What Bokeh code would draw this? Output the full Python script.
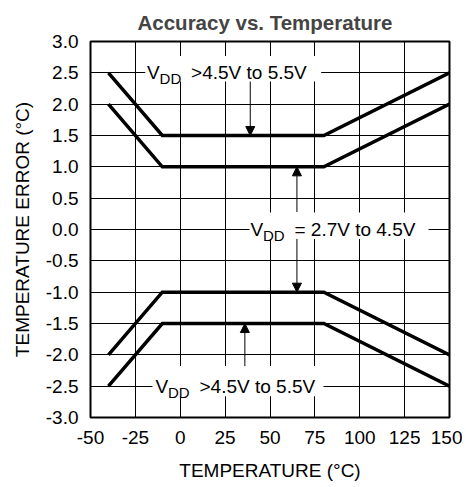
from bokeh.plotting import figure
from bokeh.models import FixedTicker, PrintfTickFormatter, Arrow, NormalHead
from bokeh.core.properties import value
from bokeh.embed import file_html
from bokeh.resources import INLINE

# ---- data ----
temps = [-40, -10, 80, 150]
err_5v_upper = [2.5, 1.5, 1.5, 2.5]
err_3v_upper = [2.0, 1.0, 1.0, 2.0]
err_3v_lower = [-2.0, -1.0, -1.0, -2.0]
err_5v_lower = [-2.5, -1.5, -1.5, -2.5]

x_ticks = [-50, -25, 0, 25, 50, 75, 100, 125, 150]
y_ticks = [-3.0, -2.5, -2.0, -1.5, -1.0, -0.5, 0.0, 0.5, 1.0, 1.5, 2.0, 2.5, 3.0]

label_hi = ">4.5V to 5.5V"
label_lo = "= 2.7V to 4.5V"

FONT = "Liberation Sans"

p = figure(width=462, height=483, x_range=(-50, 150), y_range=(-3, 3),
           output_backend="svg", toolbar_location=None,
           min_border_left=90, min_border_right=13, min_border_top=40, min_border_bottom=65,
           title="Accuracy vs. Temperature")

p.title.text_font = FONT
p.title.text_font_size = "20.5px"
p.title.text_font_style = "bold"
p.title.align = "left"
p.title.offset = 47
p.title.standoff = 16

p.outline_line_color = "black"
p.outline_line_width = 2
p.outline_line_alpha = 1

for ax in (p.xaxis, p.yaxis):
    ax.axis_line_color = None
    ax.major_tick_in = 0
    ax.major_tick_out = 0
    ax.minor_tick_in = 0
    ax.minor_tick_out = 0
    ax.major_label_text_font = FONT
    ax.major_label_text_font_size = "19px"
    ax.major_label_text_color = "black"
    ax.axis_label_text_font = FONT
    ax.axis_label_text_font_size = "19px"
    ax.axis_label_text_font_style = "normal"
    ax.axis_label_text_color = "black"

p.xaxis.ticker = FixedTicker(ticks=x_ticks)
p.yaxis.ticker = FixedTicker(ticks=y_ticks)
p.xaxis.formatter = PrintfTickFormatter(format="%d")
p.yaxis.formatter = PrintfTickFormatter(format="%.1f")
p.xaxis.axis_label = "TEMPERATURE (°C)"
p.yaxis.axis_label = "TEMPERATURE ERROR (°C)"
p.xaxis.major_label_standoff = 13
p.yaxis.major_label_standoff = 12
p.xaxis.axis_label_standoff = 13
p.yaxis.axis_label_standoff = 10

p.xgrid.ticker = FixedTicker(ticks=x_ticks)
p.ygrid.ticker = FixedTicker(ticks=y_ticks)
for g in (p.xgrid, p.ygrid):
    g.grid_line_color = "black"
    g.grid_line_alpha = 1
    g.grid_line_width = 1

for ys in (err_5v_upper, err_3v_upper, err_3v_lower, err_5v_lower):
    p.line(temps, ys, line_color="black", line_width=3.5, line_join="miter")


def vdd_label(x, y, rest, box):
    p.quad(left=[box[0]], right=[box[1]], bottom=[box[2]], top=[box[3]],
           fill_color="white", line_color=None)
    common = dict(text_font=value(FONT), text_baseline="alphabetic",
                  text_align="left", text_color="black")
    p.text(x=[x], y=[y], text=["V"], text_font_size="19px", **common)
    p.text(x=[x], y=[y], text=["DD"], text_font_size="15px",
           x_offset=12.5, y_offset=6, **common)
    p.text(x=[x], y=[y], text=[rest], text_font_size="19px",
           x_offset=44, **common)


vdd_label(-18.5, 2.5, label_hi, (-19.5, 78.5, 2.36, 2.77))
vdd_label(39.1, 0.0, label_lo, (38.6, 138.3, -0.15, 0.27))
vdd_label(-13.8, -2.5, label_hi, (-15.5, 79.8, -2.66, -2.18))

for (xa, y0, y1) in [(39, 2.36, 1.5), (65, 0.28, 1.0), (65, -0.15, -1.0), (36, -2.18, -1.5)]:
    p.add_layout(Arrow(end=NormalHead(size=9, fill_color="black", line_color="black", line_width=1),
                       x_start=xa, y_start=y0, x_end=xa, y_end=y1,
                       line_color="black", line_width=1))

open("out.html", "w").write(file_html(p, INLINE))
